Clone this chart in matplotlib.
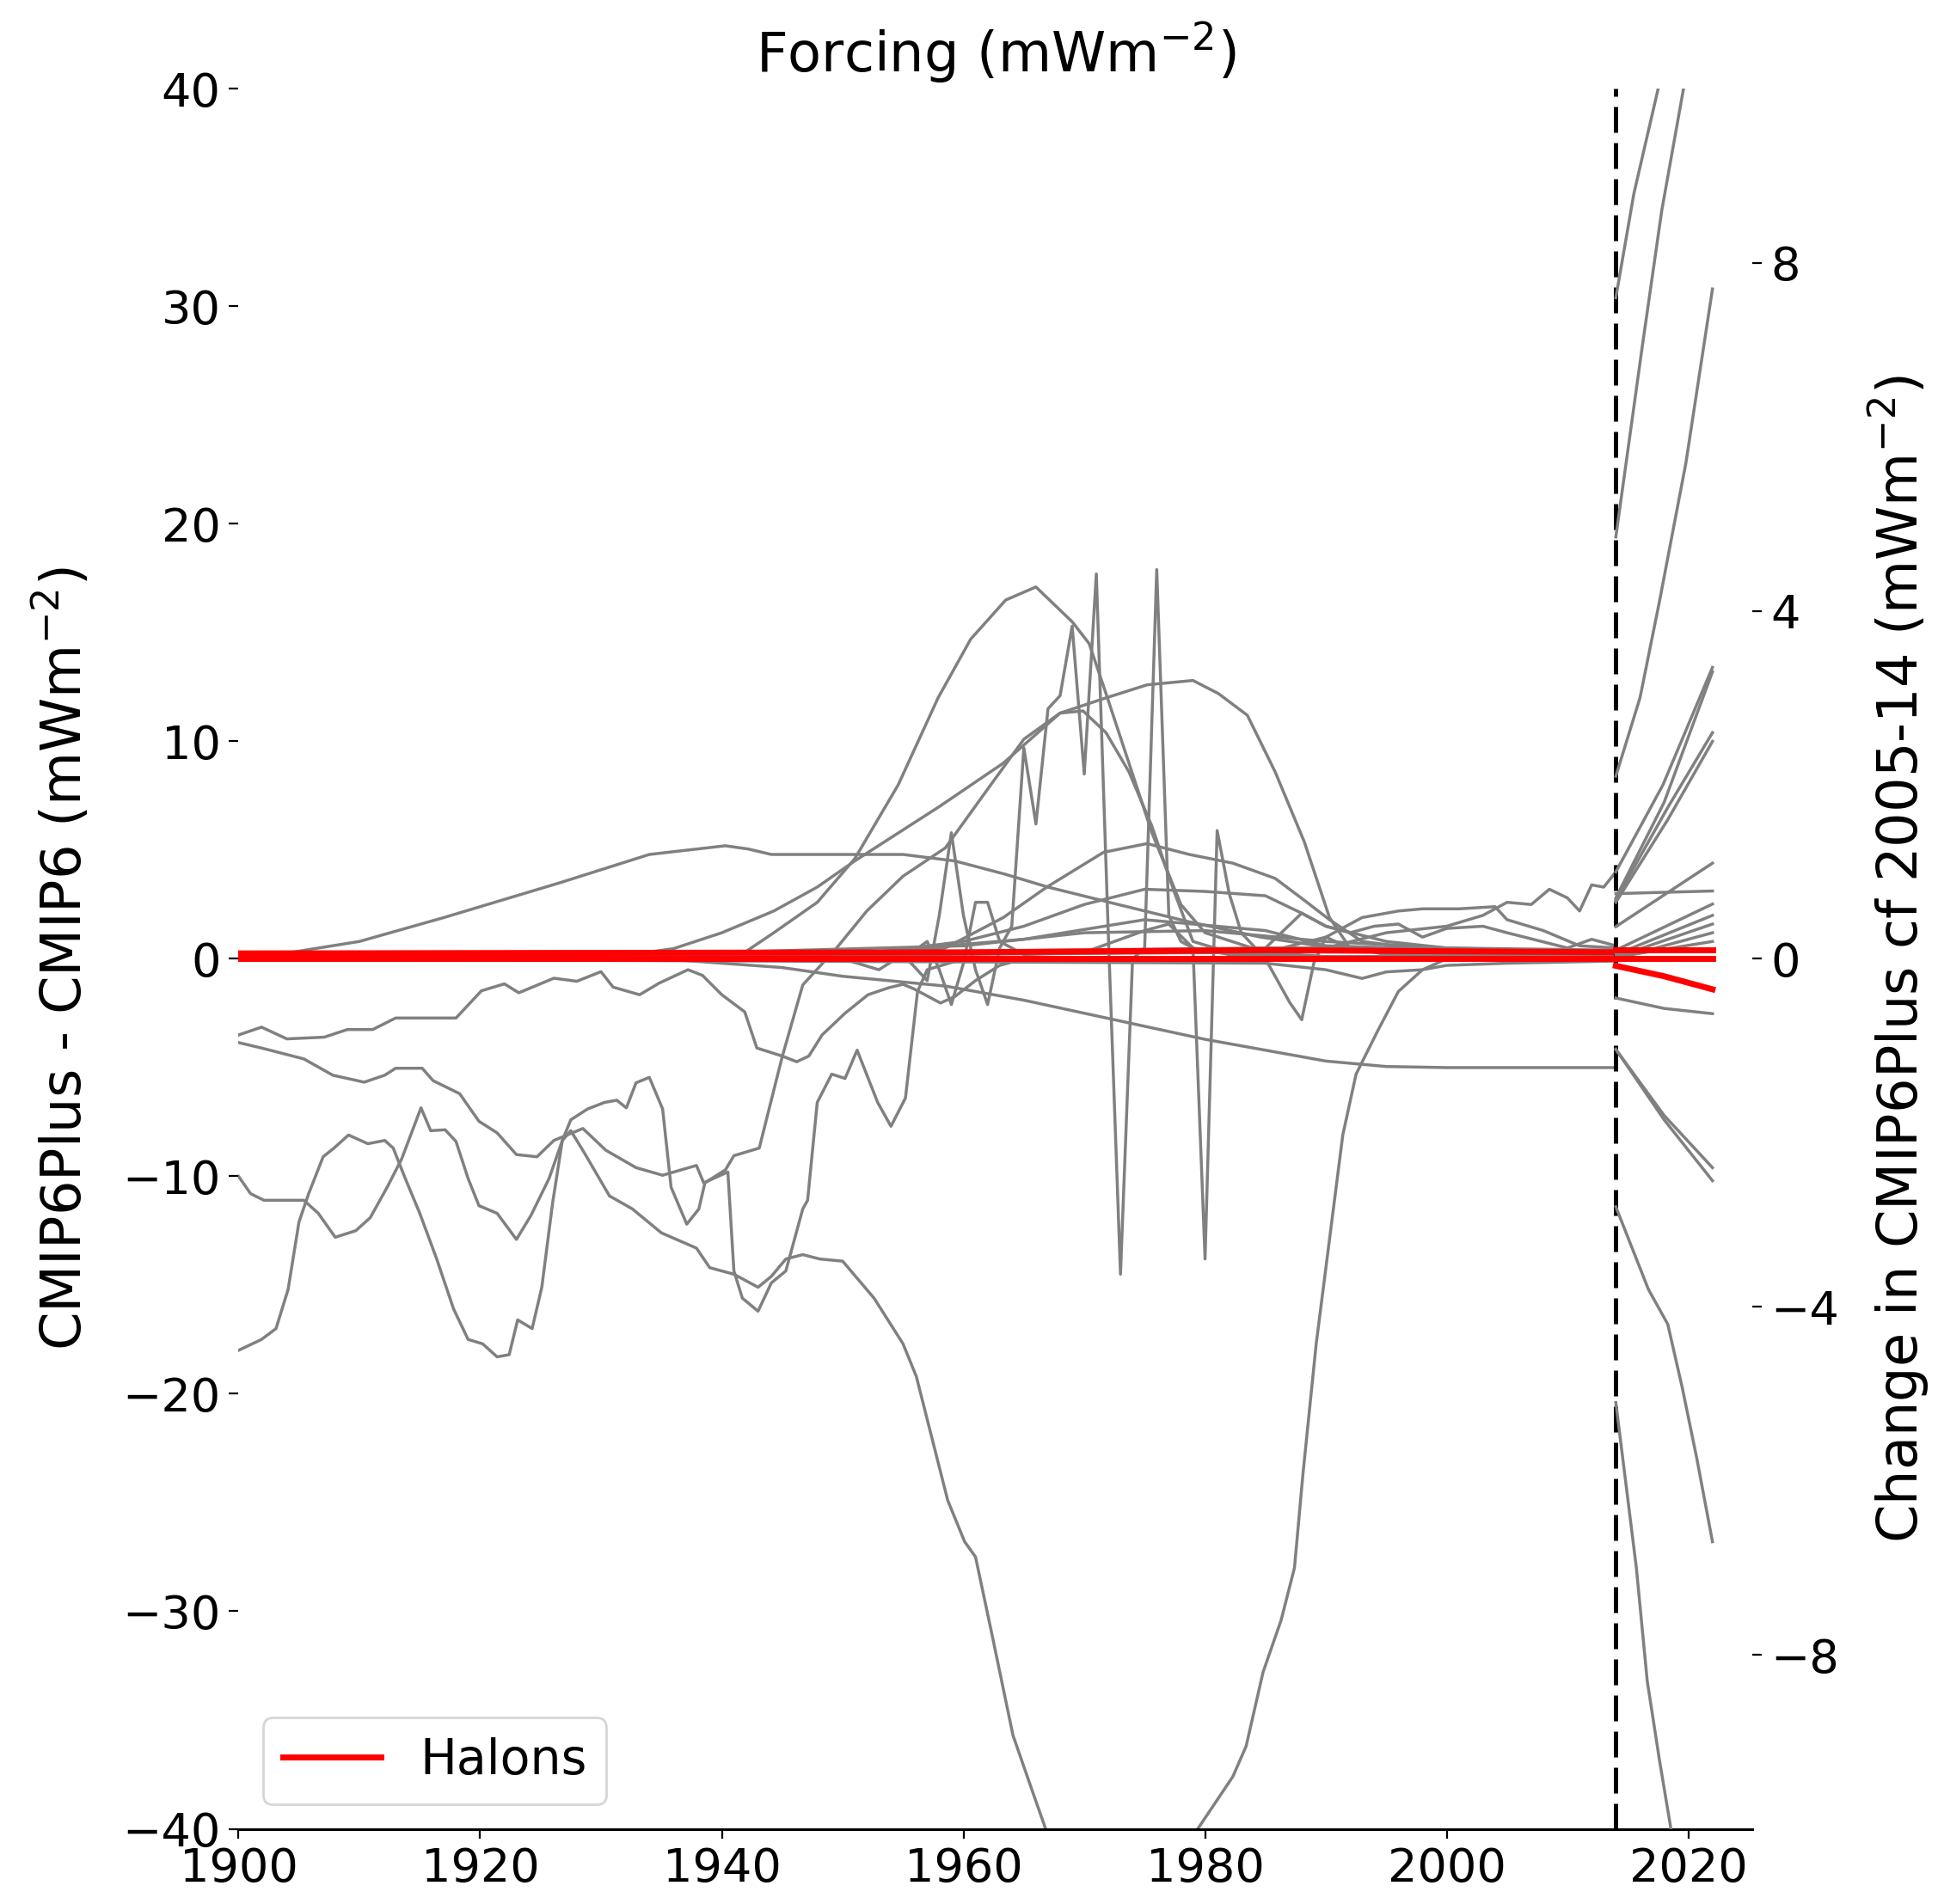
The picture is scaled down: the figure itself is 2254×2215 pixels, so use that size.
import matplotlib
matplotlib.use("Agg")
import matplotlib.pyplot as plt

# ---- CMIP6Plus - CMIP6 differences, 1900-2014 (left axis, mWm-2) ----
early_hump = [(1900, 0), (1904.4, 0.3), (1910, 0.8), (1917, 1.9), (1926.6, 3.5), (1934, 4.8),
              (1940.3, 5.2), (1942.2, 5.05), (1944.1, 4.8), (1948, 4.8), (1955, 4.8), (1959.3, 4.5),
              (1963.4, 3.9), (1967, 3.3), (1972.8, 2.5), (1978.7, 1.7), (1984.6, 1.0), (1990.6, 0.5),
              (2000, 0.4), (2014, 0.3)]
bell = [(1900, 0), (1938, 0.0), (1941.9, 0.3), (1944.3, 1.2), (1947.9, 2.6), (1951, 4.6),
        (1954.6, 8.0), (1957.9, 12.0), (1960.6, 14.7), (1963.5, 16.5), (1966, 17.1), (1969, 15.5),
        (1970.4, 14.5), (1971.8, 12.2), (1973.7, 9.0), (1975.6, 5.8), (1978, 2.5), (1980, 1.2),
        (1985, 0.3), (1990, 0.1), (2014, 0.1)]
broad_hump = [(1900, 0), (1930, 0.0), (1936, 0.47), (1940, 1.2), (1944.3, 2.2), (1947.9, 3.3),
              (1951, 4.5), (1958, 7.0), (1963.3, 9.0), (1968, 11.3), (1971.8, 12.0), (1975.2, 12.6),
              (1979, 12.8), (1981.1, 12.2), (1983.5, 11.2), (1985.8, 8.6), (1988.2, 5.4),
              (1990.3, 1.9), (1992, 0.5), (1995, 0.2), (2014, 0.2)]
spiky = [(1900, 0), (1950, 0), (1953, -0.5), (1955, 0.2), (1957, -1.0), (1958, 2.0), (1959, 5.8),
         (1960, 2.0), (1961, -0.5), (1962, -2.1), (1963, 0.5), (1964, 1.5), (1965, 9.7),
         (1966, 6.2), (1967, 11.5), (1968, 12.1), (1969, 15.3), (1970, 8.5), (1971, 17.7),
         (1972, 1.0), (1973, -14.5), (1974, 0.0), (1975, 0.5), (1976, 17.9), (1977, 2.0),
         (1978, 0.8), (1979, 0.5), (1980, -13.8), (1981, 5.9), (1982, 3.0), (1983, 1.2),
         (1984, 0.6), (1985, 0.0), (1986, -1.0), (1987, -2.0), (1988, -2.8), (1989, -0.2),
         (1990, 1.0), (1992, 0.5), (1995, 0.3), (2000, 0.2), (2014, 0.2)]
wiggle_60s = [(1900, 0), (1955, 0), (1957, 0.8), (1958, -0.5), (1959, -2.1), (1960, -0.2),
              (1961, 2.6), (1962, 2.6), (1963, 0.8), (1965, 0.2), (1970, 0.3), (1975, 1.3),
              (1977, 1.6), (1979, 0.5), (1982, 0.2), (1990, 0.1), (2014, 0.1)]
peak5 = [(1900, 0), (1945, 0.0), (1950, 0.2), (1955, 0.3), (1958.5, 0.5), (1963.3, 1.9),
         (1966.9, 3.3), (1971.6, 4.9), (1975.2, 5.3), (1978.7, 4.8), (1982.3, 4.4), (1985.8, 3.7),
         (1988.2, 2.7), (1990.3, 1.8), (1993, 0.8), (2000, 0.3), (2014, 0.2)]
peak3 = [(1900, 0), (1950, 0.1), (1960, 0.8), (1965, 1.5), (1970, 2.5), (1975, 3.2), (1980, 3.1),
         (1985, 2.9), (1988, 2.1), (1990, 1.5), (1995, 0.8), (2000, 0.5), (2014, 0.3)]
small_a = [(1900, 0), (1940, 0.3), (1960, 0.6), (1970, 1.2), (1980, 1.3), (1990, 0.8),
           (2000, 0.5), (2014, 0.4)]
small_b = [(1900, 0), (1950, 0.2), (1965, 0.9), (1975, 1.8), (1985, 1.3), (1990, 0.6), (2014, 0.2)]
decline = [(1900, 0), (1935, 0), (1945, -0.4), (1950, -0.8), (1958.5, -1.25), (1965, -1.9),
           (1970, -2.5), (1975, -3.1), (1980, -3.7), (1985, -4.2), (1990, -4.7), (1995, -4.95),
           (2000, -5.0), (2014, -5.0)]
upper_neg = [(1900, -3.5), (1901.9, -3.14), (1904, -3.68), (1907.1, -3.6), (1909, -3.25),
             (1911.1, -3.25), (1913, -2.72), (1918, -2.72), (1920.1, -1.47), (1922, -1.15),
             (1923.2, -1.56), (1926.1, -0.89), (1928, -1.03), (1930, -0.59), (1931, -1.3),
             (1933.2, -1.65), (1934.8, -1.12), (1937.2, -0.5), (1938.4, -0.76), (1940, -1.65),
             (1941.9, -2.44), (1942.9, -4.1), (1945, -4.47), (1946.2, -4.73), (1947.2, -4.47),
             (1948.3, -3.5), (1950.2, -2.5), (1952.1, -1.65), (1953.8, -1.33), (1955, -1.17),
             (1955.9, -1.38), (1958.1, -2.03), (1959.3, -1.73), (1961, -1.0), (1963, -0.3),
             (1965, 0.0), (2014, 0.0)]
lower_neg = [(1900, -3.85), (1901.9, -4.1), (1905.4, -4.6), (1907.8, -5.35), (1910.4, -5.67),
             (1912.1, -5.35), (1913, -5.03), (1915.2, -5.03), (1916.1, -5.6), (1918.3, -6.2),
             (1919.9, -7.47), (1921.4, -8.0), (1923, -9.0), (1924.7, -9.1), (1926.1, -8.35),
             (1928.5, -7.8), (1930.4, -8.8), (1932.9, -9.6), (1935.1, -9.95), (1937.9, -9.5),
             (1938.5, -10.3), (1940.5, -9.8), (1941, -14.35), (1941.7, -15.6), (1943, -16.2),
             (1944.1, -14.9), (1945.3, -14.35), (1946.7, -11.5), (1947.1, -11.1), (1947.9, -6.6),
             (1949.1, -5.3), (1950.2, -5.5), (1951.2, -4.2), (1952.9, -6.6), (1954, -7.7),
             (1955.2, -6.4), (1956.2, -1.5), (1957, -0.5), (1960, 0.0), (2014, 0.0)]
start_m10 = [(1900, -10.0), (1901, -10.8), (1902.1, -11.1), (1905.4, -11.1), (1906.6, -11.7),
             (1908, -12.8), (1909.7, -12.5), (1910.9, -11.9), (1912.3, -10.5), (1913.5, -9.2),
             (1915.1, -6.85), (1915.9, -7.9), (1917.1, -7.86), (1918, -8.4), (1919, -10.1),
             (1919.9, -11.35), (1921.4, -11.7), (1923, -12.9), (1924.2, -11.8), (1925.7, -10.1),
             (1926.8, -8.35), (1927.5, -7.4), (1928.9, -6.9), (1930.3, -6.6), (1931.3, -6.5),
             (1932.1, -6.85), (1932.9, -5.7), (1934, -5.45), (1935.1, -6.9), (1935.8, -10.5),
             (1937.1, -12.2), (1938.1, -11.5), (1938.6, -10.3), (1940.3, -9.7), (1941, -9.05),
             (1943.1, -8.7), (1945, -4.5), (1946.7, -1.2), (1949.5, 0.5), (1952, 2.2), (1955, 3.8),
             (1958.5, 5.1), (1962, 7.8), (1965, 10.1), (1968, 11.3), (1969.9, 11.4), (1971.8, 10.4),
             (1973.7, 8.6), (1975.6, 6.1), (1977.5, 3.0), (1979, 0.8), (1982, 0.3), (1990, 0.1),
             (2014, 0.1)]
deep_dip = [(1900, -18.0), (1901.9, -17.5), (1903.1, -17.0), (1904.1, -15.2), (1905, -12.1),
            (1905.8, -10.8), (1907, -9.1), (1907.9, -8.7), (1909.1, -8.1), (1910.7, -8.5),
            (1912.1, -8.35), (1912.8, -8.7), (1913.8, -10.1), (1915, -11.7), (1916.4, -13.8),
            (1917.8, -16.1), (1919, -17.5), (1920.2, -17.7), (1921.4, -18.3), (1922.4, -18.2),
            (1923.1, -16.6), (1924.3, -17.0), (1925.1, -15.1), (1926, -11.2), (1926.8, -8.35),
            (1927.5, -7.9), (1928.6, -8.9), (1930.7, -10.9), (1932.6, -11.5), (1935, -12.6),
            (1937.9, -13.3), (1939, -14.2), (1941, -14.5), (1943, -15.1), (1944.1, -14.6),
            (1945.3, -13.8), (1946.7, -13.6), (1948.1, -13.8), (1950, -13.9), (1952.6, -15.6),
            (1955, -17.7), (1956.1, -19.2), (1958.7, -24.9), (1960.1, -26.8), (1961, -27.5),
            (1962.3, -30.9), (1964.1, -35.7), (1965.6, -38.1), (1966.8, -40.0), (1970, -52),
            (1973, -58), (1976, -55), (1978, -46), (1979.4, -40.0), (1982.3, -37.6),
            (1983.4, -36.2), (1984.8, -32.8), (1986.3, -30.4), (1987.4, -28.0), (1988.1, -23.7),
            (1989.2, -17.7), (1990.3, -12.9), (1991.4, -8.1), (1992.5, -5.3), (1994.3, -3.3),
            (1996, -1.5), (1998, -0.5), (2000, 0.0), (2014, 0.0)]
recent_rise = [(1900, 0), (1970, 0.3), (1985, 0.5), (1990, 0.5), (1995, 1.2), (2000, 1.5),
               (2003, 2.0), (2005, 2.6), (2007, 2.5), (2008.5, 3.2), (2010, 2.8), (2011, 2.2),
               (2012, 3.4), (2013, 3.3), (2014, 4.0)]
recent_bump = [(1900, 0), (1985, 0.3), (1990, 1.0), (1993, 1.9), (1996, 2.2), (1998, 2.3),
               (2001, 2.3), (2004, 2.4), (2005, 1.8), (2008, 1.3), (2011, 0.6), (2014, 0.5)]
recent_wiggle = [(1900, 0), (1985, 0.5), (1988, 2.1), (1990, 1.5), (1992, 1.2), (1994, 1.5),
                 (1996, 1.6), (1998, 1.0), (2000, 1.4), (2003, 1.5), (2005, 1.2), (2010, 0.5),
                 (2012, 0.9), (2014, 0.6)]
recent_neg = [(1900, 0), (1985, -0.2), (1990, -0.5), (1993, -0.9), (1995, -0.6), (1998, -0.5),
              (2000, -0.3), (2005, -0.2), (2014, -0.1)]

hist_series = [early_hump, bell, broad_hump, spiky, wiggle_60s, peak5, peak3, small_a, small_b,
               decline, upper_neg, lower_neg, start_m10, deep_dip, recent_rise, recent_bump,
               recent_wiggle, recent_neg]

# ---- change in CMIP6Plus cf 2005-14, 2014-2022 (right axis, mWm-2) ----
fut_a = [(2014, 7.6), (2015.5, 8.8), (2017.5, 10.0), (2019, 11.0), (2022, 13.0)]
fut_b = [(2014, 4.85), (2016.2, 7.05), (2017.8, 8.6), (2019.6, 10.0), (2022, 12.0)]
fut_c = [(2014, 2.1), (2016, 3.0), (2017.6, 4.1), (2019.8, 5.7), (2022, 7.7)]
fut_d = [(2014, 1.0), (2017.9, 2.0), (2022, 3.35)]
fut_e = [(2014, 0.68), (2018.3, 1.74), (2022, 2.6)]
fut_f = [(2014, 0.65), (2018.3, 1.6), (2022, 2.5)]
fut_g = [(2014, 0.7), (2018, 1.8), (2022, 3.3)]
fut_h = [(2014, 0.37), (2022, 1.1)]
fut_i = [(2014, 0.75), (2022, 0.78)]
fut_j = [(2014, 0.1), (2022, 0.63)]
fut_k = [(2014, 0.05), (2022, 0.5)]
fut_l = [(2014, 0.02), (2022, 0.4)]
fut_m = [(2014, 0.0), (2022, 0.3)]
fut_n = [(2014, 0.02), (2022, 0.2)]
fut_o = [(2014, -0.45), (2018, -0.57), (2022, -0.63)]
fut_p = [(2014, -1.04), (2018, -1.8), (2022, -2.4)]
fut_q = [(2014, -1.04), (2018, -1.85), (2022, -2.55)]
fut_r = [(2014, -2.85), (2016.7, -3.8), (2018.3, -4.2), (2019.5, -4.93), (2020.7, -5.74),
         (2022, -6.7)]
fut_s = [(2014, -5.1), (2015.7, -7.0), (2016.6, -8.3), (2017.6, -9.2), (2018.5, -9.95),
         (2020, -11.5), (2022, -13.5)]

fut_series = [fut_a, fut_b, fut_c, fut_d, fut_e, fut_f, fut_g, fut_h, fut_i, fut_j, fut_k,
              fut_l, fut_m, fut_n, fut_o, fut_p, fut_q, fut_r, fut_s]

# ---- Halons ----
halons_hist = [[(1900, 0.0), (2014, 0.0)],
               [(1900, 0.25), (1960, 0.3), (1985, 0.4), (2014, 0.3)]]
halons_fut = [[(2014, 0.0), (2022, 0.0)],
              [(2014, 0.1), (2022, 0.1)],
              [(2014, -0.08), (2018, -0.2), (2022, -0.35)]]

split_year = 2014

TICK_FS = 19.5
LABEL_FS = 23
plt.rcParams['font.family'] = 'DejaVu Sans'

fig = plt.figure(figsize=(11.27, 11.075), dpi=200)
ax = fig.add_axes([0.1231, 0.0395, 0.7811, 0.9138])
ax2 = ax.twinx()

for s in hist_series:
    x, y = zip(*s)
    ax.plot(x, y, color='grey', lw=1.25)
for i, s in enumerate(halons_hist):
    x, y = zip(*s)
    ax.plot(x, y, color='red', lw=2.5, label='Halons' if i == 0 else '_nolegend_', zorder=5)

for s in fut_series:
    x, y = zip(*s)
    ax2.plot(x, y, color='grey', lw=1.25)
for s in halons_fut:
    x, y = zip(*s)
    ax2.plot(x, y, color='red', lw=2.5, zorder=5)

ax.axvline(split_year, color='black', lw=1.8, ls=(0, (6, 2.4)), zorder=6)

ax.set_xlim(1900, 2025.3)
ax.set_ylim(-40, 40)
ax2.set_ylim(-10, 10)
ax.set_yticks(range(-40, 41, 10))
ax.set_xticks(range(1900, 2021, 20))
ax2.set_yticks([-8, -4, 0, 4, 8])

for a in (ax, ax2):
    a.spines['top'].set_visible(False)
    a.spines['right'].set_visible(False)
    a.spines['left'].set_visible(False)
ax2.spines['bottom'].set_visible(False)
ax.spines['bottom'].set_linewidth(1.1)
ax.tick_params(labelsize=TICK_FS, length=4)
ax2.tick_params(labelsize=TICK_FS, length=4)

ax.set_title('Forcing (mWm$^{-2}$)', fontsize=LABEL_FS, pad=7)
ax.set_ylabel('CMIP6Plus - CMIP6 (mWm$^{-2}$)', fontsize=LABEL_FS)
ax.yaxis.set_label_coords(-0.096, 0.5)
ax2.set_ylabel('Change in CMIP6Plus cf 2005-14 (mWm$^{-2}$)', fontsize=LABEL_FS)
ax2.yaxis.set_label_coords(1.0755, 0.5)

ax.legend(loc='lower left', fontsize=20.5)

fig.savefig('out.png', dpi=200)
